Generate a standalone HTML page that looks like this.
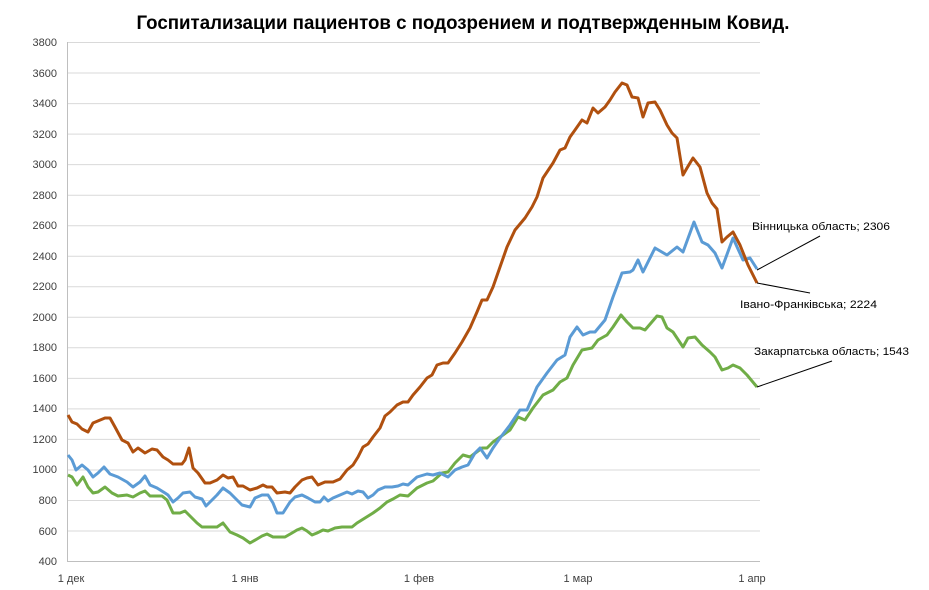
<!DOCTYPE html>
<html><head><meta charset="utf-8"><style>
body{margin:0;background:#fff;}
svg{display:block;font-family:"Liberation Sans","DejaVu Sans",sans-serif;}
</style></head><body>
<svg width="929" height="590" viewBox="0 0 929 590">
<rect width="929" height="590" fill="#fff"/>
<text x="463" y="29" text-anchor="middle" font-size="19" font-weight="bold" fill="#000" textLength="653" lengthAdjust="spacingAndGlyphs">Госпитализации пациентов с подозрением и подтвержденным Ковид.</text>
<g stroke="#d9d9d9" stroke-width="1">
<line x1="67" x2="760" y1="42.5" y2="42.5"/><line x1="67" x2="760" y1="73" y2="73"/><line x1="67" x2="760" y1="103.6" y2="103.6"/><line x1="67" x2="760" y1="134.1" y2="134.1"/><line x1="67" x2="760" y1="164.6" y2="164.6"/><line x1="67" x2="760" y1="195.2" y2="195.2"/><line x1="67" x2="760" y1="225.7" y2="225.7"/><line x1="67" x2="760" y1="256.2" y2="256.2"/><line x1="67" x2="760" y1="286.8" y2="286.8"/><line x1="67" x2="760" y1="317.3" y2="317.3"/><line x1="67" x2="760" y1="347.8" y2="347.8"/><line x1="67" x2="760" y1="378.4" y2="378.4"/><line x1="67" x2="760" y1="408.9" y2="408.9"/><line x1="67" x2="760" y1="439.4" y2="439.4"/><line x1="67" x2="760" y1="470" y2="470"/><line x1="67" x2="760" y1="500.5" y2="500.5"/><line x1="67" x2="760" y1="531" y2="531"/>
</g>
<line x1="67.5" x2="67.5" y1="42" y2="561" stroke="#bfbfbf"/>
<line x1="67" x2="760" y1="561.5" y2="561.5" stroke="#bfbfbf"/>
<g font-size="11" fill="#404040" text-anchor="end">
<text x="57" y="46">3800</text><text x="57" y="77">3600</text><text x="57" y="107">3400</text><text x="57" y="138">3200</text><text x="57" y="168">3000</text><text x="57" y="199">2800</text><text x="57" y="229">2600</text><text x="57" y="260">2400</text><text x="57" y="290">2200</text><text x="57" y="321">2000</text><text x="57" y="351">1800</text><text x="57" y="382">1600</text><text x="57" y="412">1400</text><text x="57" y="443">1200</text><text x="57" y="473">1000</text><text x="57" y="504">800</text><text x="57" y="535">600</text><text x="57" y="565">400</text>
</g>
<g font-size="11" fill="#404040" text-anchor="middle">
<text x="71" y="582">1 дек</text><text x="245" y="582">1 янв</text><text x="419" y="582">1 фев</text><text x="578" y="582">1 мар</text><text x="752" y="582">1 апр</text>
</g>
<g fill="none" stroke-width="3" stroke-linejoin="round">
<polyline stroke="#70ad47" points="68,475 72,477 77,485 83,477 88,487 93,493 98,492 105,487 112,493 118,496 127,495 133,497 140,493 145,491 150,496 162,496 167,500 173,513 180,513 185,511 192,518 197,523 202,527 210,527 217,527 223,523 230,532 237,535 243,538 250,543 257,539 262,536 267,534 273,537 285,537 292,533 297,530 302,528 307,531 312,535 317,533 323,530 328,531 335,528 342,527 352,527 357,523 365,518 373,513 380,508 387,502 393,499 400,495 408,496 417,488 427,483 433,481 442,473 448,472 455,463 463,455 470,457 482,448 487,448 493,442 503,435 510,430 518,417 525,420 533,408 543,395 553,390 560,382 567,378 573,365 582,350 592,348 598,340 607,335 613,327 621,315 627,322 633,328 640,328 645,330 657,316 662,317 667,328 673,332 683,347 688,338 695,337 702,345 710,352 715,357 722,370 728,368 733,365 740,368 747,375 757,387"/>
<polyline stroke="#5b9bd5" points="68,455 72,460 76,470 82,465 88,470 93,477 98,473 104,467 110,474 118,477 127,482 133,487 140,482 145,476 150,485 157,488 165,493 168,495 173,502 178,498 183,493 190,492 195,497 202,499 206,506 212,500 217,495 223,488 230,493 237,500 242,505 250,507 255,498 262,495 268,495 273,503 277,513 283,513 290,502 295,497 302,495 308,498 315,502 320,502 324,497 328,501 333,498 340,495 347,492 352,494 358,491 363,492 368,498 373,495 378,490 385,487 392,487 398,486 403,484 408,485 417,477 427,474 433,475 440,473 448,477 455,470 462,467 468,465 475,453 480,448 487,458 493,448 500,438 510,425 520,410 527,410 537,387 547,373 557,360 565,355 570,337 577,327 583,335 590,332 595,332 605,320 613,297 622,273 630,272 633,270 638,260 643,272 655,248 667,255 677,247 683,252 694,222 702,242 708,245 715,253 722,268 733,238 743,260 750,258 757,269"/>
<polyline stroke="#b0500f" points="68,415 72,422 77,424 82,429 88,432 93,423 105,418 110,418 115,427 122,440 128,443 133,452 138,448 145,453 152,449 157,450 163,457 168,460 173,464 182,464 185,460 189,448 193,468 198,473 205,483 210,483 217,480 223,475 228,478 233,477 238,486 243,486 250,490 257,488 263,485 267,487 272,487 277,493 285,492 290,493 295,487 302,480 307,478 312,477 318,485 325,482 333,482 340,479 347,470 353,465 358,457 363,447 368,444 373,437 380,428 385,416 390,412 397,405 403,402 408,402 413,395 420,387 427,378 432,375 437,365 443,363 448,363 455,353 462,342 470,328 477,312 482,300 487,300 493,287 500,267 507,247 515,230 525,218 532,207 537,197 543,178 553,163 560,150 565,148 570,137 575,130 582,120 587,123 593,108 598,113 605,107 610,100 615,92 622,83 627,85 632,97 638,98 643,117 648,103 655,102 660,110 667,125 672,133 677,138 683,175 687,168 693,158 700,167 707,193 712,203 717,209 722,242 727,237 733,232 740,245 748,265 757,283"/>
</g>
<g stroke="#000" stroke-width="1">
<line x1="757" y1="270" x2="820" y2="236"/>
<line x1="757" y1="283" x2="810" y2="293"/>
<line x1="757" y1="387" x2="832" y2="361"/>
</g>
<g font-size="11" fill="#000">
<text x="752" y="230" textLength="138" lengthAdjust="spacingAndGlyphs">Вінницька область; 2306</text>
<text x="740" y="308" textLength="137" lengthAdjust="spacingAndGlyphs">Івано-Франківська; 2224</text>
<text x="754" y="355" textLength="155" lengthAdjust="spacingAndGlyphs">Закарпатська область; 1543</text>
</g>
</svg>
</body></html>
